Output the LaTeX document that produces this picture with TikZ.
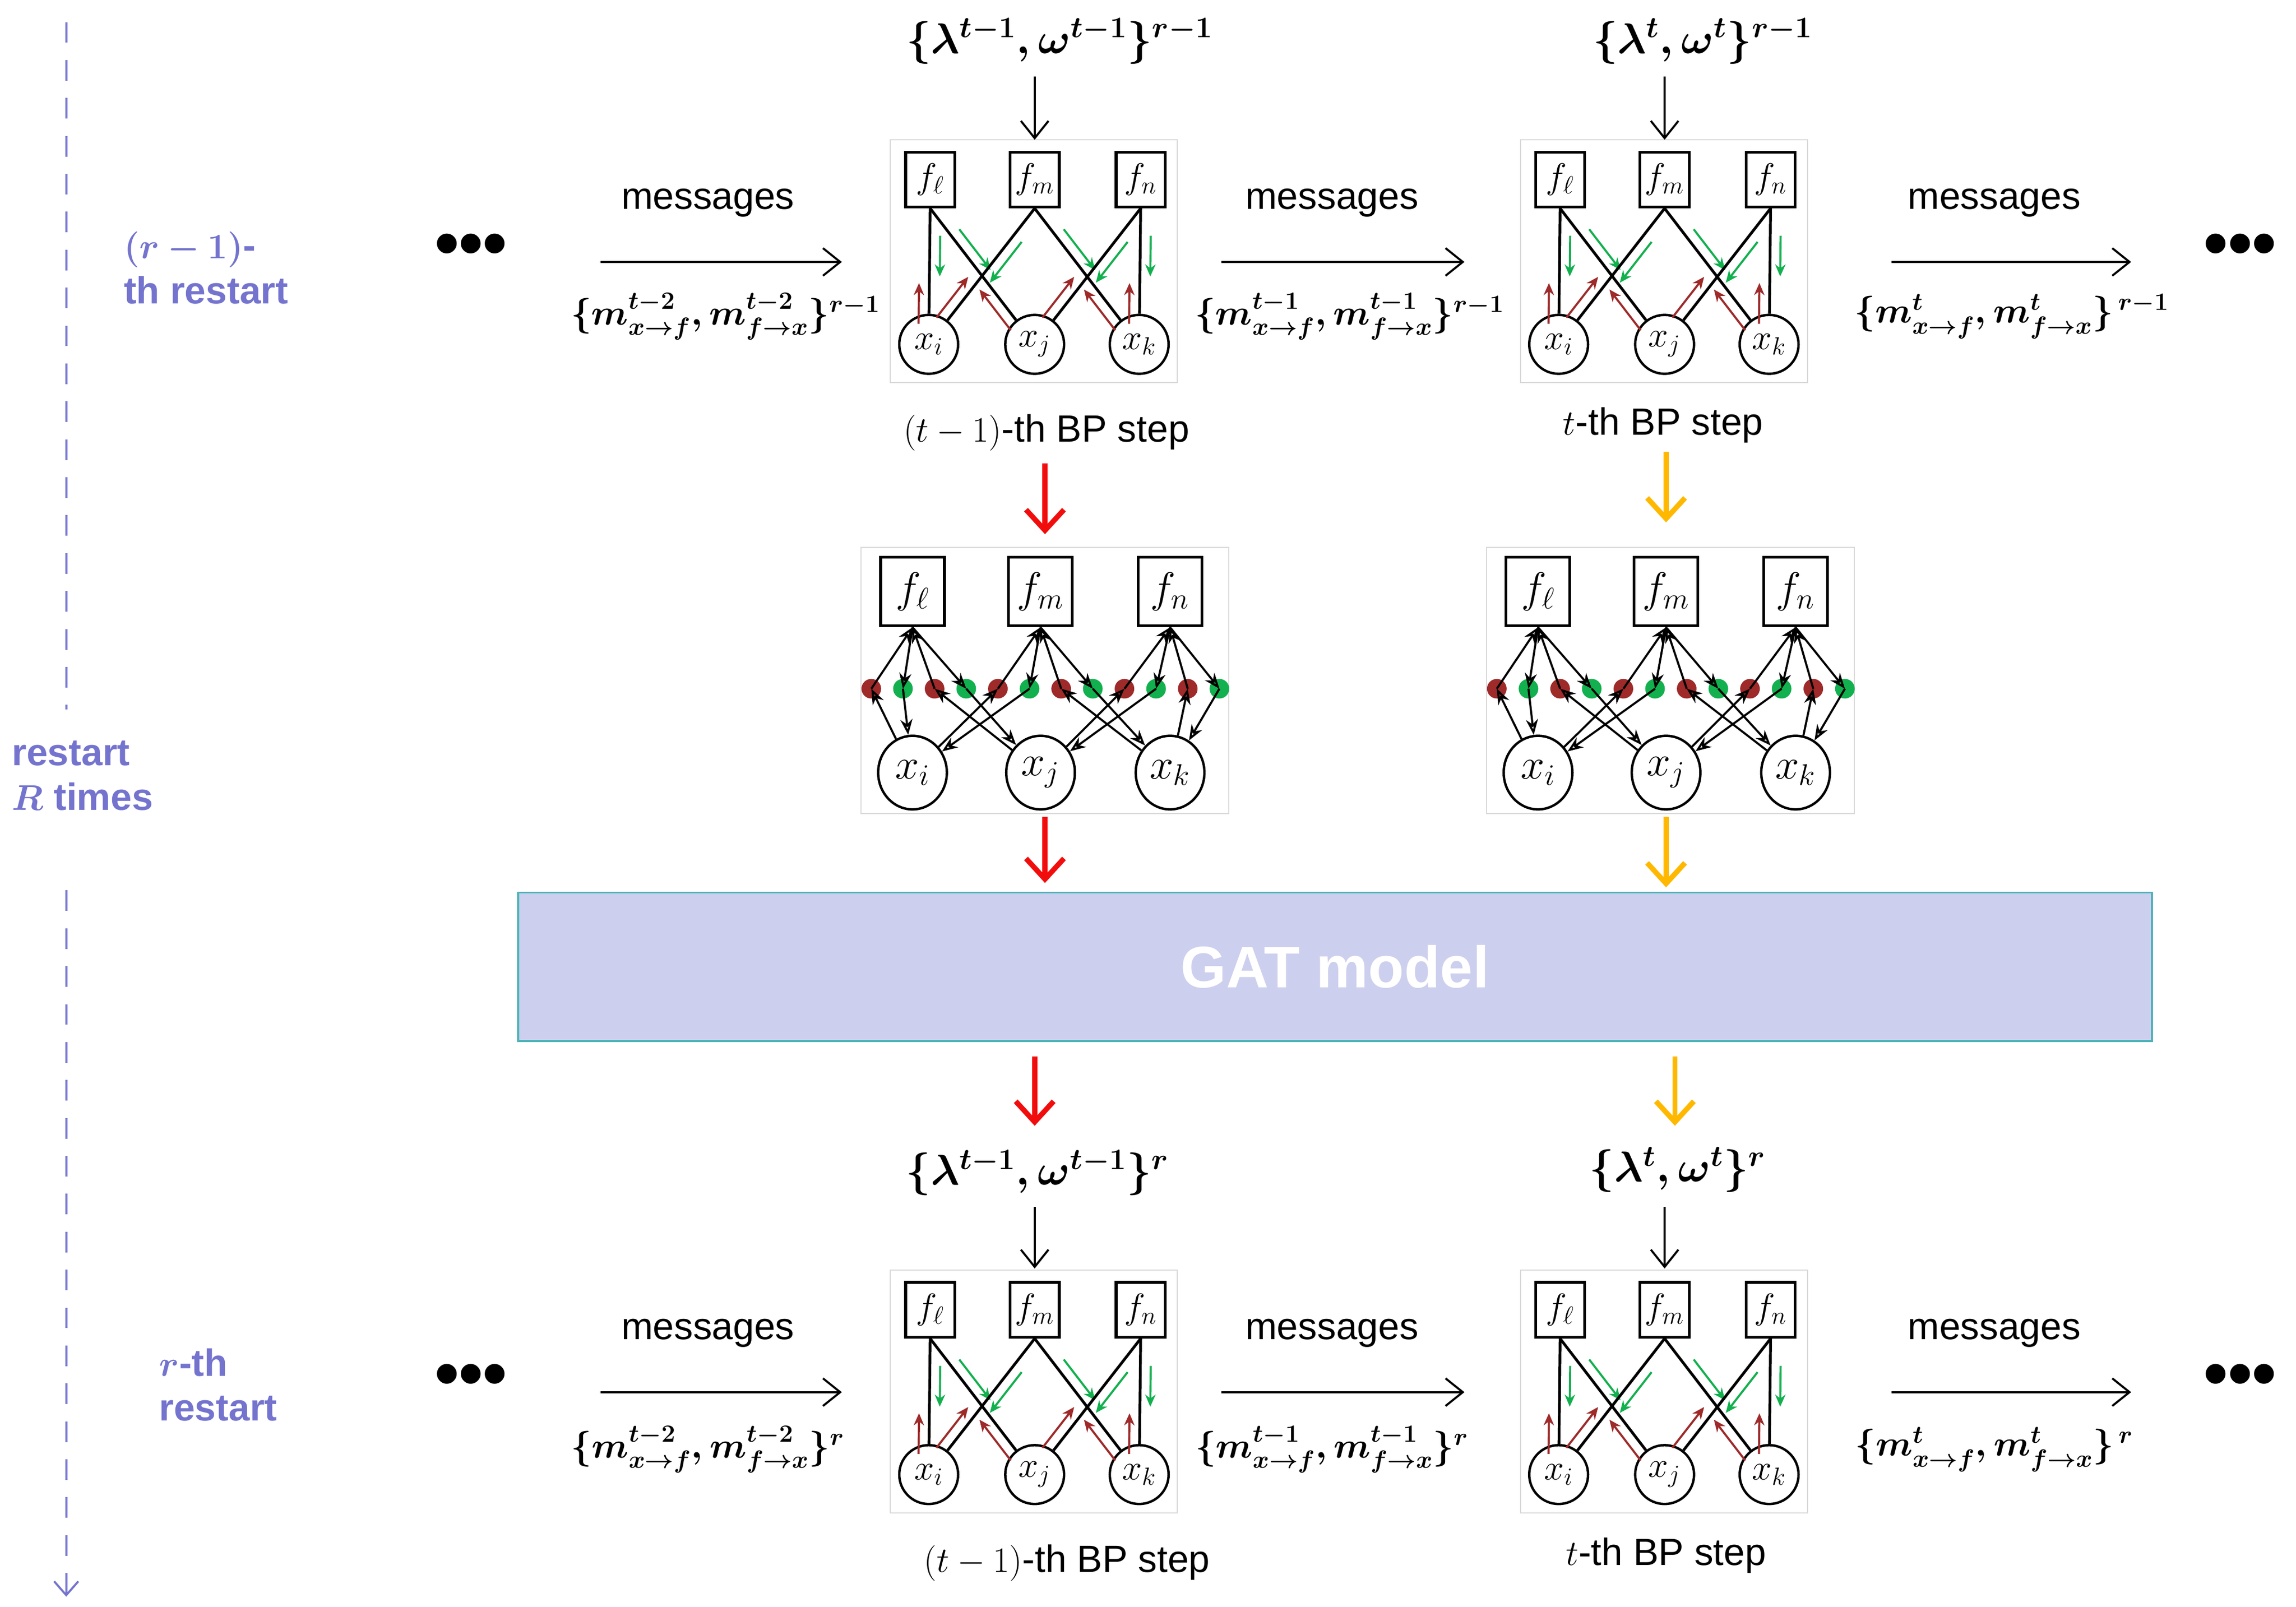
\documentclass[tikz,border=0pt]{standalone}
\usepackage{amsmath,amssymb,bm}
\usepackage{fontspec}
\setmainfont{Liberation Sans}
\usepackage{tikz}
\usetikzlibrary{positioning,calc,arrows.meta,shapes.geometric}
\definecolor{restartblue}{HTML}{7474CF}
\definecolor{msgred}{HTML}{9E2A2A}
\definecolor{msggreen}{HTML}{12B04E}
\definecolor{stepred}{HTML}{F20D0D}
\definecolor{steporange}{HTML}{FFB800}
\definecolor{gatfill}{HTML}{CDCFEE}
\definecolor{gatline}{HTML}{4BB4B8}
\tikzstyle{factor} = [rectangle, draw, line width=1.6pt, minimum width=1.0cm, minimum height=1.12cm, inner sep=0pt, font=\fontsize{22}{24}\selectfont]
\tikzstyle{varnode} = [circle, draw, line width=1.4pt, minimum size=1.2cm, inner sep=0pt, font=\fontsize{22}{24}\selectfont]
\tikzstyle{bfactor} = [rectangle, draw, line width=1.6pt, minimum width=1.3cm, minimum height=1.4cm, inner sep=0pt, font=\fontsize{26}{28}\selectfont]
\tikzstyle{bvarnode} = [ellipse, draw, line width=1.4pt, minimum width=1.4cm, minimum height=1.5cm, inner sep=0pt, font=\fontsize{26}{28}\selectfont]
\tikzstyle{fgframe} = [draw=black!15, line width=0.6pt]
\tikzstyle{fgedge} = [draw, line width=1.6pt]
\tikzstyle{gmsg} = [draw=msggreen, line width=1.2pt, -{Stealth[length=7pt,width=6pt]}]
\tikzstyle{rmsg} = [draw=msgred, line width=1.2pt, -{Stealth[length=7pt,width=6pt]}]
\tikzstyle{flow} = [draw, line width=1.2pt, -{Stealth[length=9pt,width=7pt,open]}]
\tikzstyle{msgarrow} = [draw, line width=1.2pt, -{Straight Barb[length=10pt,width=16pt]}]
\tikzstyle{redstep} = [draw=stepred, line width=3pt, -{Straight Barb[length=12pt,width=22pt]}]
\tikzstyle{orangestep} = [draw=steporange, line width=3pt, -{Straight Barb[length=12pt,width=22pt]}]
\tikzstyle{txt} = [draw=none, fill=none, text centered, font=\fontsize{22}{26}\selectfont]
\tikzstyle{mtxt} = [draw=none, fill=none, text centered, font=\fontsize{24}{28}\selectfont\boldmath]
\tikzstyle{mform} = [draw=none, fill=none, text centered, font=\fontsize{20}{24}\selectfont\boldmath]
\tikzstyle{side} = [draw=none, text=restartblue, align=left, anchor=west, font=\fontsize{22}{26}\selectfont\bfseries]

% small factor graph with messages
\newcommand{\smallfg}[3]{%
  \begin{scope}[shift={(#2,#3)}]
    \draw [fgframe] (-98,-27) rectangle (97,138);
    \node [factor] (#1fl) at (-71,0) {$f_\ell$};
    \node [factor] (#1fm) at (0,0) {$f_m$};
    \node [factor] (#1fn) at (72,0) {$f_n$};
    \node [varnode] (#1xi) at (-72,112) {$x_i$};
    \node [varnode] (#1xj) at (0,112) {$x_j$};
    \node [varnode] (#1xk) at (71,112) {$x_k$};
  \end{scope}
  \foreach \f/\v in {fl/xi,fl/xj,fm/xi,fm/xk,fn/xj,fn/xk}{
    \path [fgedge] (#1\f.south) -- (#1\v);
    \draw [gmsg] ($(#1\f.south)!.2!(#1\v)!6pt!90:(#1\v)$) -- ($(#1\f.south)!.5!(#1\v)!6pt!90:(#1\v)$);
    \draw [rmsg] ($(#1\f.south)!.85!(#1\v)!6pt!-90:(#1\v)$) -- ($(#1\f.south)!.55!(#1\v)!6pt!-90:(#1\v)$);
  }
}

% factor graph with message nodes
\newcommand{\bigfg}[2]{%
  \begin{scope}[shift={(#2,402)}]
    \draw [fgframe] (-122,-30) rectangle (128,151);
    \node [bfactor] (#1fl) at (-87,0) {$f_\ell$};
    \node [bfactor] (#1fm) at (0,0) {$f_m$};
    \node [bfactor] (#1fn) at (88,0) {$f_n$};
    \node [bvarnode] (#1xi) at (-87,123) {$x_i$};
    \node [bvarnode] (#1xj) at (0,123) {$x_j$};
    \node [bvarnode] (#1xk) at (88,123) {$x_k$};
    \foreach \k in {1,...,12}{
      \pgfmathsetmacro{\dx}{-115+21.5*(\k-1)}
      \ifodd\k
        \fill [msgred] (\dx,66) circle (0.2cm);
      \else
        \fill [msggreen] (\dx,66) circle (0.2cm);
      \fi
    }
    \foreach \k in {1,...,12}{
      \coordinate (#1d\k) at (-115+21.5*\k-21.5,66);
    }
  \end{scope}
  \foreach \f/\v/\r/\g in {fl/xi/1/2,fl/xj/3/4,fm/xi/5/6,fm/xk/7/8,fn/xj/9/10,fn/xk/11/12}{
    \draw [flow] (#1\v) -- (#1d\r);
    \draw [flow] (#1d\r) -- (#1\f.south);
    \draw [flow] (#1\f.south) -- (#1d\g);
    \draw [flow] (#1d\g) -- (#1\v);
  }
}

\begin{document}
\begin{tikzpicture}[x=0.03cm, y=-0.03cm]
	\useasboundingbox (0,0) rectangle (1560,1092);

	% restart axis
	\coordinate (A0) at (45,15);
	\coordinate (A1) at (45,482);
	\coordinate (A2) at (45,605);
	\coordinate (A3) at (45,1085);
	\draw [restartblue, line width=1.2pt, dash pattern=on 12pt off 10pt] (A0) -- (A1);
	\draw [restartblue, line width=1.2pt, dash pattern=on 12pt off 10pt, -{Straight Barb[length=8pt,width=14pt]}] (A2) -- (A3);
	\node [side] (S1) at (80,182) {$\bm{(r-1)}$-\\th restart};
	\node [side] (S2) at (4,527) {restart\\$\bm{R}$ times};
	\node [side] (S3) at (104,941) {$\bm{r}$-th\\restart};

	% factor graphs
	\smallfg{A}{703}{122}
	\smallfg{B}{1131}{122}
	\smallfg{C}{703}{890}
	\smallfg{D}{1131}{890}
	\bigfg{M}{707}
	\bigfg{N}{1132}

	% top row texts
	\node [mtxt] (L1) at (720,28) {$\{\bm{\lambda}^{t-1},\bm{\omega}^{t-1}\}^{r-1}$};
	\node [mtxt] (L2) at (1157,28) {$\{\bm{\lambda}^{t},\bm{\omega}^{t}\}^{r-1}$};
	\path [msgarrow] (703,52) -- (703,95);
	\path [msgarrow] (1131,52) -- (1131,95);
	\foreach \n/\x/\m in {P1/481/{\{\bm{m}^{t-2}_{x\to f},\bm{m}^{t-2}_{f\to x}\}^{r-1}},P2/905/{\{\bm{m}^{t-1}_{x\to f},\bm{m}^{t-1}_{f\to x}\}^{r-1}},P3/1355/{\{\bm{m}^{t}_{x\to f},\bm{m}^{t}_{f\to x}\}^{\,r-1}}}{
	  \node [txt] (\n) at (\x,138) {messages};
	  \node [mform] (\n m) at (\x+12,215) {$\m$};
	}
	\path [msgarrow] (408,178) -- (572,178);
	\path [msgarrow] (830,178) -- (995,178);
	\path [msgarrow] (1285,178) -- (1448,178);
	\node [txt] (E1) at (320,170) {\textbf{\fontsize{40}{40}\selectfont •••}};
	\node [txt] (E2) at (1522,170) {\textbf{\fontsize{40}{40}\selectfont •••}};
	\node [txt] (ST1) at (711,294) {$(t-1)$-th BP step};
	\node [txt] (ST2) at (1130,289) {$t$-th BP step};

	% GAT model
	\node [draw=gatline, fill=gatfill, line width=1.2pt, minimum width=33.3cm, minimum height=3.03cm, text=white, font=\fontsize{34}{40}\selectfont\bfseries] (GAT) at (907,657) {GAT model};

	% thick arrows
	\path [redstep] (710,315) -- (710,363);
	\path [redstep] (710,555) -- (710,600);
	\path [redstep] (703,718) -- (703,765);
	\path [orangestep] (1132,307) -- (1132,355);
	\path [orangestep] (1132,555) -- (1132,603);
	\path [orangestep] (1138,718) -- (1138,765);

	% bottom row texts
	\node [mtxt] (L3) at (705,797) {$\{\bm{\lambda}^{t-1},\bm{\omega}^{t-1}\}^{r}$};
	\node [mtxt] (L4) at (1140,795) {$\{\bm{\lambda}^{t},\bm{\omega}^{t}\}^{r}$};
	\path [msgarrow] (703,820) -- (703,862);
	\path [msgarrow] (1131,820) -- (1131,862);
	\foreach \n/\x/\m in {Q1/481/{\{\bm{m}^{t-2}_{x\to f},\bm{m}^{t-2}_{f\to x}\}^{r}},Q2/905/{\{\bm{m}^{t-1}_{x\to f},\bm{m}^{t-1}_{f\to x}\}^{r}},Q3/1355/{\{\bm{m}^{t}_{x\to f},\bm{m}^{t}_{f\to x}\}^{\,r}}}{
	  \node [txt] (\n) at (\x,906) {messages};
	  \node [mform] (\n m) at (\x,985) {$\m$};
	}
	\path [msgarrow] (408,946) -- (572,946);
	\path [msgarrow] (830,946) -- (995,946);
	\path [msgarrow] (1285,946) -- (1448,946);
	\node [txt] (E3) at (320,938) {\textbf{\fontsize{40}{40}\selectfont •••}};
	\node [txt] (E4) at (1522,938) {\textbf{\fontsize{40}{40}\selectfont •••}};
	\node [txt] (ST3) at (725,1062) {$(t-1)$-th BP step};
	\node [txt] (ST4) at (1132,1057) {$t$-th BP step};
\end{tikzpicture}
\end{document}
